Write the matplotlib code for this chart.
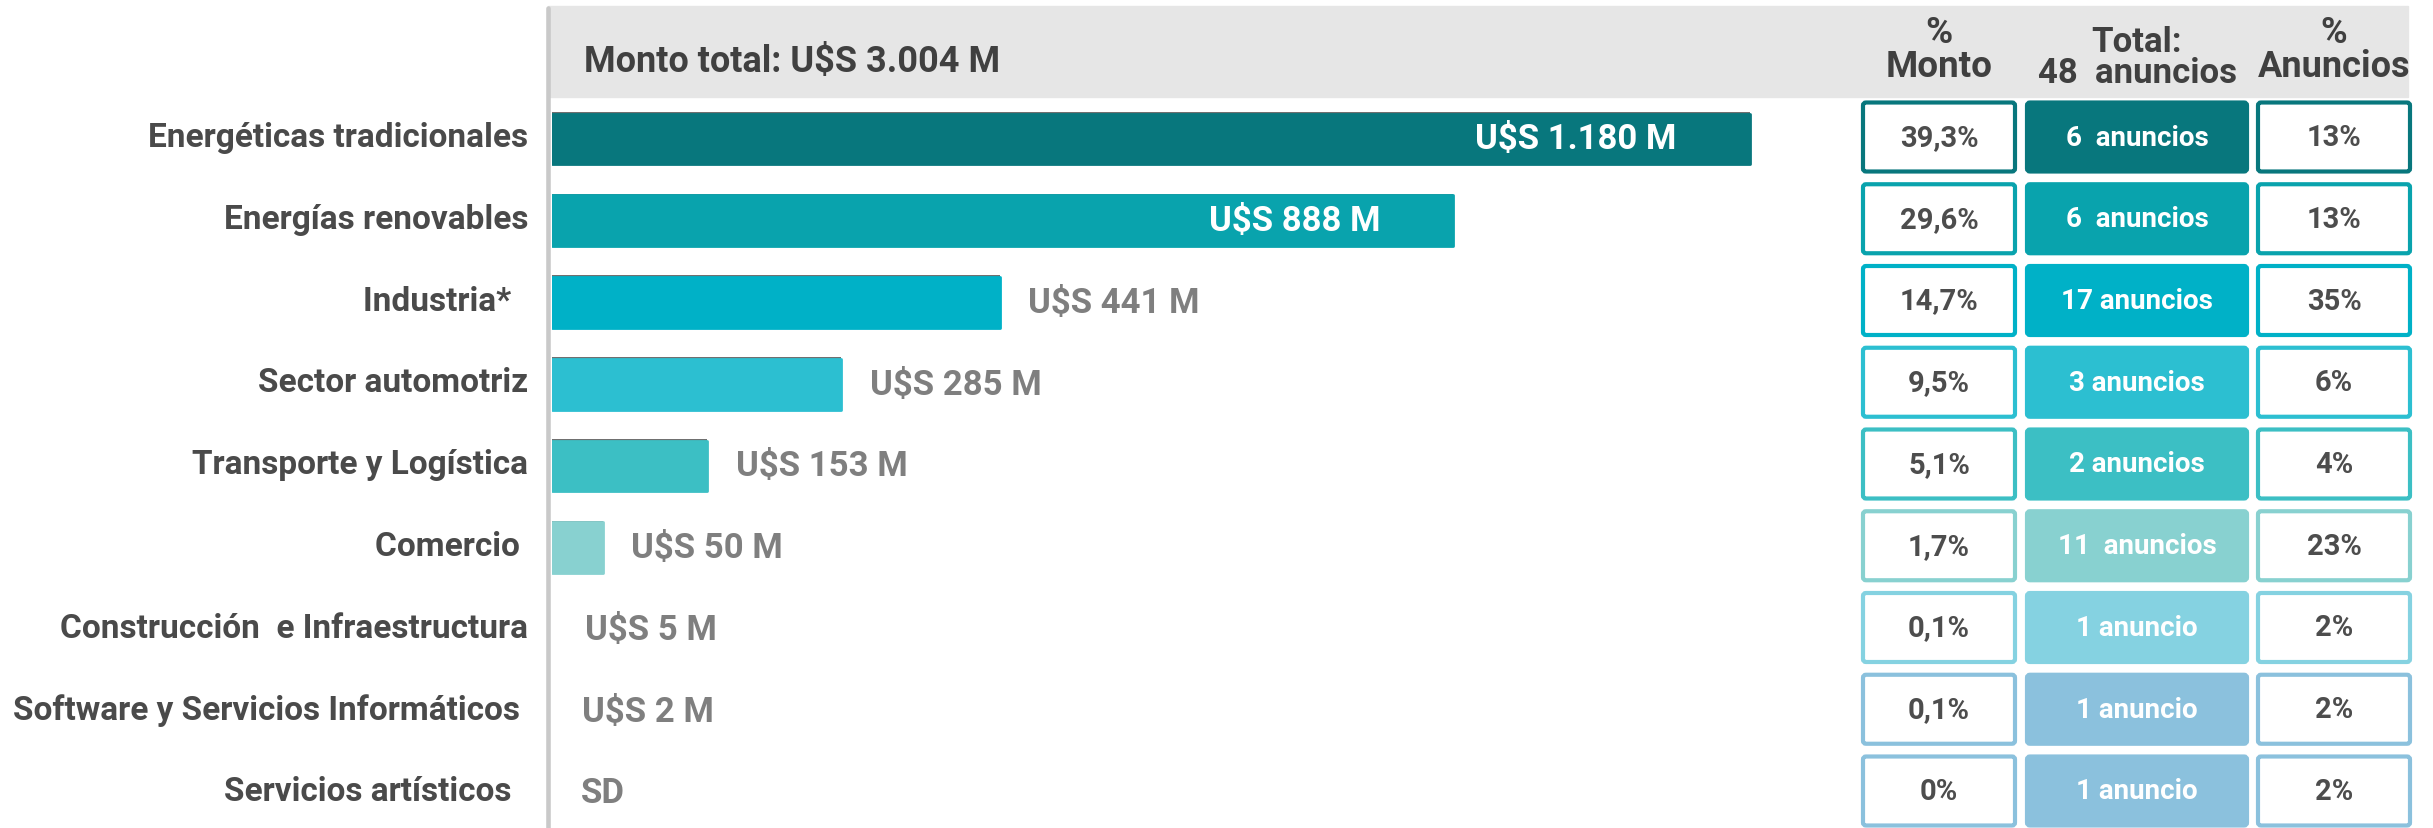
import matplotlib
matplotlib.use("Agg")
import matplotlib.pyplot as plt
import matplotlib.patheffects as pe
from matplotlib.patches import FancyBboxPatch, Rectangle
from matplotlib.lines import Line2D

# datos
categorias = ["Energéticas tradicionales", "Energías renovables", "Industria*  ",
              "Sector automotriz", "Transporte y Logística", "Comercio ",
              "Construcción  e Infraestructura", "Software y Servicios Informáticos ",
              "Servicios artísticos  "]
montos = [1180, 888, 441, 285, 153, 50, 5, 2, None]
etiquetas_monto = ["U$S 1.180 M", "U$S 888 M", "U$S 441 M", "U$S 285 M", "U$S 153 M",
                   "U$S 50 M", "U$S 5 M", "U$S 2 M", "SD"]
pct_monto = ["39,3%", "29,6%", "14,7%", "9,5%", "5,1%", "1,7%", "0,1%", "0,1%", "0%"]
anuncios = ["6  anuncios", "6  anuncios", "17 anuncios", "3 anuncios", "2 anuncios",
            "11  anuncios", "1 anuncio", "1 anuncio", "1 anuncio"]
pct_anuncios = ["13%", "13%", "35%", "6%", "4%", "23%", "2%", "2%", "2%"]
colores = ["#08777D", "#09A3AD", "#00B1C7", "#2CBFD1", "#3CBFC4", "#88D1D0",
           "#85D2E1", "#8BC1DD", "#8BC1DD"]

titulo = "Monto total: U$S 3.004 M"
encabezados = ["%\nMonto", "Total:\n48  anuncios", "%\nAnuncios"]

plt.rcParams['font.family'] = ['Roboto', 'DejaVu Sans']
plt.rcParams['font.weight'] = 'bold'

W, H = 2433, 829
ROW0, PASO = 138, 81.75          # centro de la primera fila y separacion (px)
X0_BARRA, PX_POR_M = 552, 1.015  # inicio de las barras y escala
n = len(categorias)

fig = plt.figure(figsize=(W / 100, H / 100), dpi=100)

# capa de fondo / tabla en pixeles
ov = fig.add_axes([0, 0, 1, 1])
ov.set_xlim(0, W)
ov.set_ylim(H, 0)
ov.axis('off')

ov.add_patch(Rectangle((548, 7), 2408 - 548, 91, color="#E6E6E6", zorder=0))
ov.add_line(Line2D([547.5, 547.5], [9, H], color="#C9C9C9", lw=3.3,
                   solid_capstyle='round', zorder=1))
ov.text(584, 62, titulo, ha='left', va='center', fontsize=26, color="#404040")

col_x = [1861, 2025, 2256]
col_w = [156, 224, 156]
alto = 73
enc_y = [50, 58, 50]
enc_fs = [26.5, 25, 26]
for j, enc in enumerate(encabezados):
    cx = col_x[j] + col_w[j] / 2
    ov.text(cx, enc_y[j], enc, ha='center', va='center', fontsize=enc_fs[j], color="#404040",
            linespacing=0.95)

for i in range(n):
    yc = ROW0 + PASO * i
    ov.text(528, yc, categorias[i], ha='right', va='center', fontsize=24, color="#4A4A4A")
    for j in range(3):
        relleno = colores[i] if j == 1 else "white"
        ov.add_patch(FancyBboxPatch((col_x[j] + 2, yc - alto / 2 + 2), col_w[j] - 4, alto - 4,
                                    boxstyle="round,pad=0,rounding_size=3",
                                    facecolor=relleno, edgecolor=colores[i], lw=3, zorder=2))
    cx = [col_x[j] + col_w[j] / 2 for j in range(3)]
    ov.text(cx[0], yc, pct_monto[i], ha='center', va='center', fontsize=21, color="#4D4D4D", zorder=3)
    ov.text(cx[1], yc, anuncios[i], ha='center', va='center', fontsize=20, color="white", zorder=3)
    ov.text(cx[2], yc, pct_anuncios[i], ha='center', va='center', fontsize=21, color="#4D4D4D", zorder=3)

# barras
ax = fig.add_axes([X0_BARRA / W, 0, (1800 - X0_BARRA) / W, 1])
ax.patch.set_alpha(0)
ax.set_xlim(0, (1800 - X0_BARRA) / PX_POR_M)
ax.set_ylim((H - ROW0 - 2) / PASO, -(ROW0 + 2) / PASO)
ax.axis('off')

filas = list(range(n))
con_barra = [m is not None and m >= 50 for m in montos]
barras = ax.barh([f for f, b in zip(filas, con_barra) if b],
                 [m for m, b in zip(montos, con_barra) if b],
                 height=0.62, color=[c for c, b in zip(colores, con_barra) if b],
                 edgecolor=[c for c, b in zip(colores, con_barra) if b], lw=2, joinstyle='round')
for b in barras:
    b.set_path_effects([pe.SimplePatchShadow(offset=(0, 1.2), shadow_rgbFace="#333333", alpha=0.7),
                        pe.Normal()])

for i, m in enumerate(montos):
    if m is not None and m > 600:
        ax.text(m - 72, i, etiquetas_monto[i], ha='right', va='center', fontsize=25, color="white")
    else:
        x = (m if m is not None else 0) + 28
        ax.text(x, i, etiquetas_monto[i], ha='left', va='center', fontsize=25, color="#7F7F7F")

fig.savefig("out.png", dpi=100)
